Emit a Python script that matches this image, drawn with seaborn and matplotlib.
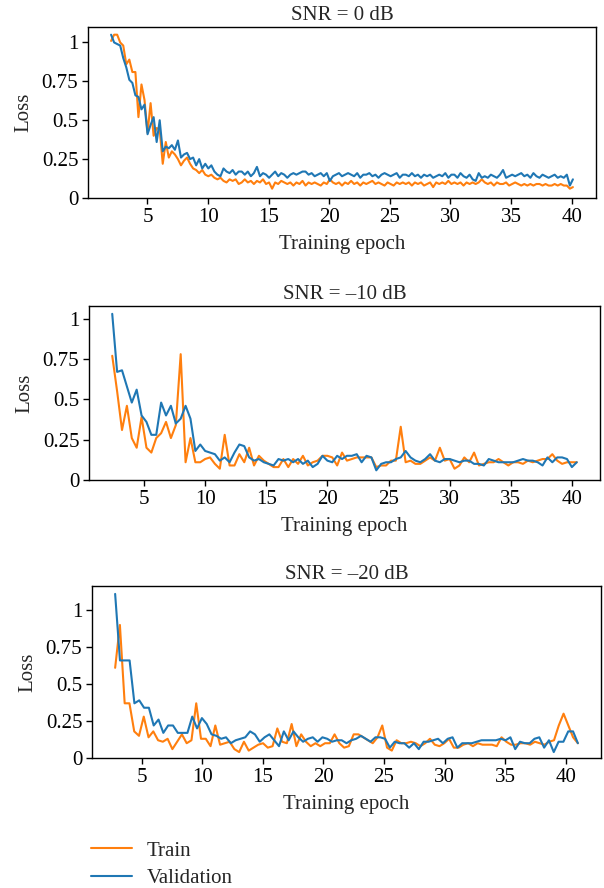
import numpy as np
import pandas as pd
import seaborn as sns
import matplotlib
matplotlib.use("Agg")
import matplotlib.pyplot as plt
from matplotlib.lines import Line2D
from matplotlib.ticker import FuncFormatter

# SNR = 0 dB  (epoch 2.0 -> 40.1)
snr0_train = [
    1.01, 1.05, 1.05, 1.00, 0.98, 0.86, 0.89, 0.81, 0.81, 0.52, 0.73, 0.63, 0.42,
    0.61, 0.40, 0.45, 0.44, 0.22, 0.36, 0.26, 0.30, 0.28, 0.25, 0.21, 0.24,
    0.26, 0.22, 0.19, 0.18, 0.16, 0.18, 0.15, 0.14, 0.15, 0.13, 0.12, 0.13,
    0.11, 0.10, 0.12, 0.11, 0.12, 0.09, 0.10, 0.12, 0.10, 0.11, 0.09, 0.11,
    0.10, 0.12, 0.09, 0.10, 0.06, 0.10, 0.09, 0.11, 0.10, 0.09, 0.10, 0.08,
    0.10, 0.09, 0.11, 0.08, 0.10, 0.09, 0.10, 0.09, 0.08, 0.10, 0.09, 0.12,
    0.10, 0.09, 0.10, 0.08, 0.10, 0.09, 0.11, 0.09, 0.10, 0.08, 0.10, 0.09,
    0.10, 0.11, 0.09, 0.10, 0.09, 0.08, 0.10, 0.09, 0.08, 0.10, 0.09, 0.10,
    0.09, 0.10, 0.08, 0.10, 0.09, 0.10, 0.08, 0.09, 0.10, 0.07, 0.10, 0.09,
    0.10, 0.09, 0.11, 0.09, 0.10, 0.09, 0.10, 0.08, 0.10, 0.09, 0.10, 0.09,
    0.10, 0.12, 0.10, 0.09, 0.10, 0.08, 0.10, 0.09, 0.09, 0.10, 0.08, 0.09,
    0.10, 0.09, 0.08, 0.09, 0.08, 0.09, 0.08, 0.09, 0.09, 0.08, 0.09, 0.08,
    0.08, 0.09, 0.08, 0.09, 0.08, 0.08, 0.06, 0.07,
]
snr0_val = [
    1.05, 1.00, 0.99, 0.98, 0.90, 0.84, 0.76, 0.74, 0.66, 0.65, 0.57, 0.60, 0.41,
    0.47, 0.52, 0.36, 0.50, 0.30, 0.33, 0.32, 0.34, 0.31, 0.37, 0.26, 0.28,
    0.29, 0.25, 0.26, 0.21, 0.25, 0.19, 0.22, 0.19, 0.21, 0.17, 0.15, 0.14,
    0.19, 0.17, 0.16, 0.18, 0.15, 0.17, 0.17, 0.15, 0.17, 0.14, 0.16, 0.20,
    0.14, 0.16, 0.15, 0.13, 0.15, 0.17, 0.14, 0.16, 0.15, 0.13, 0.15, 0.16,
    0.15, 0.16, 0.17, 0.17, 0.15, 0.16, 0.14, 0.15, 0.16, 0.14, 0.16, 0.11,
    0.14, 0.15, 0.16, 0.14, 0.15, 0.16, 0.15, 0.14, 0.16, 0.13, 0.15, 0.15,
    0.16, 0.14, 0.15, 0.13, 0.15, 0.16, 0.15, 0.14, 0.15, 0.16, 0.13, 0.15,
    0.15, 0.14, 0.16, 0.14, 0.15, 0.13, 0.15, 0.14, 0.15, 0.13, 0.14, 0.15,
    0.14, 0.16, 0.13, 0.15, 0.15, 0.13, 0.16, 0.14, 0.13, 0.15, 0.12, 0.11,
    0.16, 0.13, 0.14, 0.13, 0.15, 0.14, 0.13, 0.15, 0.18, 0.13, 0.14, 0.15,
    0.14, 0.15, 0.16, 0.14, 0.15, 0.13, 0.16, 0.14, 0.13, 0.15, 0.14, 0.13,
    0.14, 0.15, 0.13, 0.14, 0.13, 0.15, 0.08, 0.12,
]

# SNR = -10 dB  (epoch 2.4 -> 40.4)
snr10_train = [
    0.77, 0.55, 0.31, 0.46, 0.26, 0.20, 0.39, 0.20, 0.17, 0.26, 0.29, 0.36,
    0.26, 0.34, 0.78, 0.11, 0.26, 0.11, 0.11, 0.13, 0.14, 0.10, 0.07, 0.28,
    0.09, 0.09, 0.16, 0.11, 0.20, 0.09, 0.15, 0.12, 0.10, 0.08, 0.08, 0.13,
    0.08, 0.13, 0.10, 0.15, 0.09, 0.11, 0.12, 0.15, 0.15, 0.14, 0.09, 0.17,
    0.12, 0.13, 0.14, 0.14, 0.14, 0.14, 0.08, 0.09, 0.09, 0.12, 0.12, 0.33,
    0.11, 0.12, 0.10, 0.10, 0.12, 0.14, 0.12, 0.20, 0.12, 0.13, 0.07, 0.09,
    0.14, 0.11, 0.17, 0.09, 0.10, 0.11, 0.11, 0.13, 0.11, 0.09, 0.11, 0.11,
    0.10, 0.12, 0.11, 0.12, 0.13, 0.13, 0.16, 0.12, 0.10, 0.11, 0.11, 0.11,
]
snr10_val = [
    1.03, 0.67, 0.68, 0.58, 0.48, 0.56, 0.40, 0.36, 0.28, 0.28, 0.48, 0.40,
    0.46, 0.35, 0.38, 0.46, 0.38, 0.18, 0.22, 0.18, 0.17, 0.16, 0.12, 0.14,
    0.11, 0.17, 0.22, 0.21, 0.14, 0.12, 0.13, 0.11, 0.10, 0.09, 0.13, 0.12,
    0.13, 0.11, 0.13, 0.10, 0.12, 0.08, 0.10, 0.15, 0.12, 0.11, 0.15, 0.13,
    0.15, 0.15, 0.16, 0.11, 0.15, 0.14, 0.06, 0.10, 0.11, 0.11, 0.13, 0.14,
    0.18, 0.14, 0.12, 0.11, 0.13, 0.16, 0.12, 0.11, 0.13, 0.13, 0.12, 0.11,
    0.12, 0.12, 0.10, 0.10, 0.09, 0.13, 0.12, 0.11, 0.11, 0.11, 0.11, 0.12,
    0.13, 0.12, 0.12, 0.11, 0.09, 0.14, 0.11, 0.14, 0.14, 0.13, 0.08, 0.11,
]

# SNR = -20 dB  (epoch 2.8 -> 41.0)
snr20_train = [
    0.61, 0.90, 0.37, 0.37, 0.18, 0.15, 0.28, 0.14, 0.18, 0.12, 0.11, 0.13,
    0.06, 0.11, 0.16, 0.10, 0.12, 0.37, 0.13, 0.13, 0.08, 0.22, 0.09, 0.10,
    0.11, 0.06, 0.04, 0.11, 0.05, 0.07, 0.09, 0.10, 0.07, 0.08, 0.20, 0.11,
    0.10, 0.23, 0.08, 0.16, 0.11, 0.08, 0.10, 0.08, 0.10, 0.10, 0.16, 0.10,
    0.07, 0.08, 0.16, 0.16, 0.14, 0.12, 0.10, 0.14, 0.22, 0.07, 0.05, 0.12,
    0.10, 0.10, 0.11, 0.10, 0.08, 0.10, 0.13, 0.09, 0.08, 0.10, 0.13, 0.07,
    0.07, 0.09, 0.10, 0.08, 0.10, 0.09, 0.09, 0.09, 0.08, 0.14, 0.11, 0.09,
    0.09, 0.10, 0.10, 0.09, 0.11, 0.10, 0.09, 0.11, 0.12, 0.22, 0.30, 0.22,
    0.14, 0.10,
]
snr20_val = [
    1.11, 0.66, 0.66, 0.66, 0.37, 0.39, 0.34, 0.34, 0.22, 0.26, 0.17, 0.22,
    0.22, 0.17, 0.17, 0.17, 0.28, 0.20, 0.27, 0.23, 0.16, 0.15, 0.13, 0.14,
    0.10, 0.12, 0.13, 0.14, 0.18, 0.16, 0.11, 0.14, 0.16, 0.12, 0.08, 0.18,
    0.12, 0.18, 0.14, 0.11, 0.13, 0.14, 0.11, 0.14, 0.13, 0.11, 0.12, 0.12,
    0.10, 0.12, 0.13, 0.15, 0.13, 0.11, 0.14, 0.14, 0.13, 0.07, 0.11, 0.10,
    0.10, 0.07, 0.10, 0.06, 0.11, 0.11, 0.12, 0.13, 0.10, 0.13, 0.14, 0.07,
    0.10, 0.10, 0.10, 0.11, 0.12, 0.12, 0.12, 0.12, 0.13, 0.12, 0.14, 0.06,
    0.11, 0.10, 0.10, 0.13, 0.14, 0.07, 0.12, 0.04, 0.11, 0.11, 0.18, 0.18,
    0.10,
]

panels = [
    ("SNR = 0 dB", snr0_train, snr0_val, 2.0, 40.1),
    ("SNR = \u201310 dB", snr10_train, snr10_val, 2.4, 40.4),
    ("SNR = \u201320 dB", snr20_train, snr20_val, 2.8, 41.0),
]

sns.set_theme(style="ticks")
plt.rcParams["font.family"] = ["Liberation Serif", "DejaVu Serif"]
plt.rcParams["font.size"] = 15
plt.rcParams["axes.linewidth"] = 1.0

palette = {"Train": "#ff7f0e", "Validation": "#1f77b4"}

W, H = 604, 888
# axes boxes in pixels: left, top, right, bottom
boxes = [(88, 27, 596, 198), (89, 306, 600, 480), (92, 586, 601, 758)]

fig = plt.figure(figsize=(W / 100, H / 100), dpi=100)

for (title, train, val, x0, x1), (l, t, r, b) in zip(panels, boxes):
    ax = fig.add_axes([l / W, 1 - b / H, (r - l) / W, (b - t) / H])
    df = pd.concat([
        pd.DataFrame({"epoch": np.linspace(x0, x1, len(train)), "loss": train, "set": "Train"}),
        pd.DataFrame({"epoch": np.linspace(x0, x1, len(val)), "loss": val, "set": "Validation"}),
    ])
    sns.lineplot(data=df, x="epoch", y="loss", hue="set", hue_order=["Train", "Validation"],
                 palette=palette, linewidth=1.5, ax=ax, legend=False)
    ax.set_ylim(bottom=0)
    ax.set_xticks([5, 10, 15, 20, 25, 30, 35, 40])
    ax.set_yticks([0, 0.25, 0.5, 0.75, 1])
    ax.yaxis.set_major_formatter(FuncFormatter(lambda v, p: "%g" % v))
    ax.tick_params(labelsize=15, length=4, width=1, pad=3, colors="black")
    ax.set_title(title, fontsize=15, pad=5)
    ax.set_xlabel("Training epoch", fontsize=15, labelpad=6)
    ax.set_ylabel("Loss", fontsize=15, labelpad=6)
    for s in ax.spines.values():
        s.set_color("black")

handles = [Line2D([], [], color=palette["Train"], lw=1.5),
           Line2D([], [], color=palette["Validation"], lw=1.5)]
fig.legend(handles, ["Train", "Validation"], loc="upper left", bbox_to_anchor=(0.15, 0.053),
           frameon=False, fontsize=15, borderpad=0, borderaxespad=0,
           handlelength=2.0, handletextpad=0.7, labelspacing=0.4)

fig.savefig("out.png", dpi=100)
